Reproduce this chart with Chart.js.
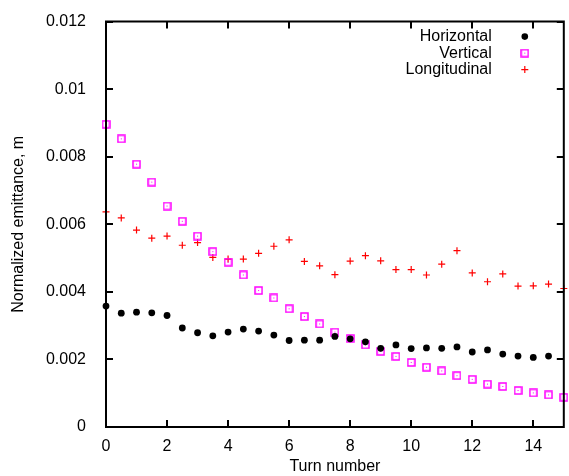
<!DOCTYPE html>
<html>
<head>
<meta charset="utf-8">
<script src="https://cdn.jsdelivr.net/npm/chart.js@4/dist/chart.umd.min.js"></script>
<style>
  html, body { margin: 0; padding: 0; background: #fff; }
  #wrap { width: 569px; height: 476px; }
</style>
</head>
<body>
<div id="wrap"><canvas id="chart" width="569" height="476"></canvas></div>
<script>
const turns = [0, 0.5, 1, 1.5, 2, 2.5, 3, 3.5, 4, 4.5, 5, 5.5, 6, 6.5, 7, 7.5,
               8, 8.5, 9, 9.5, 10, 10.5, 11, 11.5, 12, 12.5, 13, 13.5, 14, 14.5, 15];

const horizontal = [0.00358, 0.00337, 0.00340, 0.00338, 0.00330, 0.00293, 0.00279, 0.00270,
                    0.00281, 0.00290, 0.00284, 0.00272, 0.00256, 0.00257, 0.00257, 0.00268,
                    0.00261, 0.00252, 0.00233, 0.00243, 0.00232, 0.00234, 0.00233, 0.00237,
                    0.00222, 0.00228, 0.00216, 0.00210, 0.00206, 0.00210];

const vertical = [0.00896, 0.00853, 0.00778, 0.00725, 0.00654, 0.00609, 0.00565, 0.00519,
                  0.00488, 0.00450, 0.00404, 0.00382, 0.00350, 0.00327, 0.00305, 0.00281,
                  0.00262, 0.00243, 0.00224, 0.00209, 0.00191, 0.00177, 0.00166, 0.00152,
                  0.00141, 0.00127, 0.00120, 0.00108, 0.00101, 0.00095, 0.00088];

const longitudinal = [0.00637, 0.00619, 0.00583, 0.00559, 0.00565, 0.00538, 0.00546, 0.00502,
                      0.00497, 0.00497, 0.00514, 0.00535, 0.00554, 0.00490, 0.00477, 0.00451,
                      0.00491, 0.00507, 0.00492, 0.00466, 0.00466, 0.00450, 0.00482, 0.00522,
                      0.00456, 0.00430, 0.00453, 0.00417, 0.00418, 0.00423, 0.00410];

const seriesNames = ['Horizontal', 'Vertical', 'Longitudinal'];
const xTicks = [0, 2, 4, 6, 8, 10, 12, 14];
const yTicks = [0, 0.002, 0.004, 0.006, 0.008, 0.01, 0.012];

const FONT = '"Liberation Sans", Arial, Helvetica, sans-serif';

function pairs(values) {
    return values.map((v, i) => ({ x: turns[i], y: v }));
}

// hollow magenta square with a small dot in the middle (gnuplot style)
function squareMarker() {
    const c = document.createElement('canvas');
    c.width = 9; c.height = 9;
    const g = c.getContext('2d');
    g.strokeStyle = '#ff00ff';
    g.lineWidth = 1.5;
    g.strokeRect(1, 1, 7, 7);
    g.fillStyle = '#ff00ff';
    g.fillRect(4, 4, 1, 1);
    return c;
}
const squareImg = squareMarker();

// ticks on all four sides, drawn inward, plus the frame
const framePlugin = {
    id: 'frame',
    afterDraw(chart) {
        const ctx = chart.ctx;
        const a = chart.chartArea;
        const xs = chart.scales.x, ys = chart.scales.y;
        const len = 7;
        ctx.save();
        ctx.strokeStyle = '#000000';
        ctx.lineWidth = 2;
        xTicks.forEach(t => {
            const px = Math.round(xs.getPixelForValue(t));
            ctx.beginPath();
            ctx.moveTo(px, a.bottom); ctx.lineTo(px, a.bottom - len);
            ctx.moveTo(px, a.top); ctx.lineTo(px, a.top + len);
            ctx.stroke();
        });
        yTicks.forEach(t => {
            const py = Math.round(ys.getPixelForValue(t));
            ctx.beginPath();
            ctx.moveTo(a.left, py); ctx.lineTo(a.left + len, py);
            ctx.moveTo(a.right, py); ctx.lineTo(a.right - len, py);
            ctx.stroke();
        });
        ctx.beginPath();
        ctx.rect(a.left, a.top, a.right - a.left, a.bottom - a.top);
        ctx.stroke();

        // legend, top right inside the plot
        const textRight = a.right - 72;
        const markX = a.right - 39;
        let y = a.top + 15;
        ctx.font = '16px ' + FONT;
        ctx.textAlign = 'right';
        ctx.textBaseline = 'middle';
        seriesNames.forEach((name, i) => {
            ctx.fillStyle = '#000';
            ctx.fillText(name, textRight, y);
            if (i === 0) {
                ctx.beginPath();
                ctx.arc(markX, y, 3.3, 0, Math.PI * 2);
                ctx.fill();
            } else if (i === 1) {
                ctx.drawImage(squareImg, markX - 4.5, y - 4.5);
            } else {
                ctx.strokeStyle = '#ff0000';
                ctx.lineWidth = 1.2;
                ctx.beginPath();
                ctx.moveTo(markX - 3.5, y); ctx.lineTo(markX + 3.5, y);
                ctx.moveTo(markX, y - 3.5); ctx.lineTo(markX, y + 3.5);
                ctx.stroke();
            }
            y += 16.5;
        });
        ctx.restore();
    }
};

new Chart(document.getElementById('chart'), {
    type: 'scatter',
    data: {
        datasets: [
            {
                label: seriesNames[0],
                data: pairs(horizontal),
                pointStyle: 'circle',
                pointRadius: 3.4,
                backgroundColor: '#000',
                borderColor: '#000',
                borderWidth: 0,
                clip: false
            },
            {
                label: seriesNames[1],
                data: pairs(vertical),
                pointStyle: squareImg,
                clip: false
            },
            {
                label: seriesNames[2],
                data: pairs(longitudinal),
                pointStyle: 'cross',
                pointRadius: 3.5,
                borderColor: '#ff0000',
                backgroundColor: '#ff0000',
                borderWidth: 1.2,
                clip: false
            }
        ]
    },
    options: {
        responsive: false,
        animation: false,
        layout: { padding: { top: 19, right: 1, left: 0, bottom: 0 } },
        plugins: {
            legend: { display: false },
            tooltip: { enabled: false }
        },
        scales: {
            x: {
                type: 'linear',
                min: 0,
                max: 15,
                afterBuildTicks: s => { s.ticks = xTicks.map(v => ({ value: v })); },
                afterFit: s => { s.height = 49; },
                grid: { display: false },
                border: { display: false },
                ticks: {
                    color: '#000',
                    padding: 2,
                    maxRotation: 0,
                    font: { family: FONT, size: 16 },
                    callback: v => String(v)
                },
                title: {
                    display: true,
                    text: 'Turn number',
                    color: '#000',
                    font: { family: FONT, size: 16 },
                    padding: { top: 0, bottom: 0 }
                }
            },
            y: {
                type: 'linear',
                min: 0,
                max: 0.012,
                afterBuildTicks: s => { s.ticks = yTicks.map(v => ({ value: v })); },
                afterFit: s => { s.width = 106; },
                grid: { display: false },
                border: { display: false },
                ticks: {
                    color: '#000',
                    padding: 12,
                    font: { family: FONT, size: 16 },
                    callback: v => String(parseFloat(v.toFixed(3)))
                },
                title: {
                    display: true,
                    text: 'Normalized emittance, m',
                    color: '#000',
                    font: { family: FONT, size: 16 },
                    padding: { top: 9, bottom: 0 }
                }
            }
        }
    },
    plugins: [framePlugin]
});
</script>
</body>
</html>
